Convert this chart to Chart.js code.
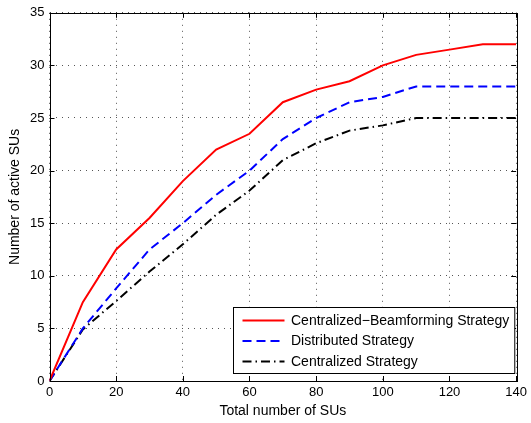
<!DOCTYPE html>
<html>
<head>
<meta charset="utf-8">
<script src="https://cdn.jsdelivr.net/npm/chart.js@4.4.1/dist/chart.umd.min.js"></script>
<style>
  html, body { margin: 0; padding: 0; background: #fff; }
  #wrap { width: 531px; height: 423px; }
</style>
</head>
<body>
<div id="wrap"><canvas id="myChart" width="531" height="423"></canvas></div>
<script>
// x values (total number of SUs)
const totalSUs = [0, 10, 20, 30, 40, 50, 60, 70, 80, 90, 100, 110, 120, 130, 140];

// number of active SUs per strategy
const centralizedBeamforming = [0, 7.5, 12.5, 15.5, 19, 22, 23.5, 26.5, 27.7, 28.5, 30, 31, 31.5, 32, 32];
const distributed = [0, 5, 8.8, 12.5, 15, 17.7, 20, 23, 25, 26.5, 27, 28, 28, 28, 28];
const centralized = [0, 4.9, 7.6, 10.4, 13, 15.8, 18.1, 21, 22.6, 23.8, 24.3, 25, 25, 25, 25];

const seriesNames = ['Centralized\u2212Beamforming Strategy', 'Distributed Strategy', 'Centralized Strategy'];
const xTicks = [0, 20, 40, 60, 80, 100, 120, 140];
const yTicks = [0, 5, 10, 15, 20, 25, 30, 35];

const FONT = '"Liberation Sans", Arial, Helvetica, sans-serif';

function toPoints(ys) {
    return totalSUs.map((x, i) => ({ x: x, y: ys[i] }));
}

// box around the axes, inward ticks on all sides, legend box (MATLAB look)
const matlabFrame = {
    id: 'matlabFrame',
    afterDraw(chart) {
        const ctx = chart.ctx;
        const a = chart.chartArea;
        const xs = chart.scales.x, ys = chart.scales.y;
        const tl = 5;
        ctx.save();
        ctx.strokeStyle = '#000';
        ctx.lineWidth = 1;
        ctx.beginPath();
        xTicks.forEach(v => {
            const px = Math.round(xs.getPixelForValue(v)) + 0.5;
            ctx.moveTo(px, a.bottom); ctx.lineTo(px, a.bottom - tl);
            ctx.moveTo(px, a.top); ctx.lineTo(px, a.top + tl);
        });
        yTicks.forEach(v => {
            const py = Math.round(ys.getPixelForValue(v)) + 0.5;
            ctx.moveTo(a.left, py); ctx.lineTo(a.left + tl, py);
            ctx.moveTo(a.right, py); ctx.lineTo(a.right - tl, py);
        });
        ctx.stroke();
        ctx.strokeRect(Math.round(a.left) + 0.5, Math.round(a.top) + 0.5,
            Math.round(a.right - a.left), Math.round(a.bottom - a.top));

        // legend
        ctx.font = '14px ' + FONT;
        const maxW = Math.max(...seriesNames.map(s => ctx.measureText(s).width));
        const bw = 57 + maxW + 6;
        const bh = 66;
        const bx = Math.round(a.right - 2 - bw) + 0.5;
        const by = Math.round(a.bottom - 8 - bh) + 0.5;
        ctx.fillStyle = '#fff';
        ctx.fillRect(bx, by, bw, bh);
        ctx.strokeRect(bx, by, bw, bh);
        chart.data.datasets.forEach((ds, i) => {
            const ly = by + 13 + i * 20.5;
            ctx.save();
            ctx.strokeStyle = ds.borderColor;
            ctx.lineWidth = ds.borderWidth;
            ctx.setLineDash(ds.borderDash || []);
            ctx.beginPath();
            ctx.moveTo(bx + 9, ly);
            ctx.lineTo(bx + 51, ly);
            ctx.stroke();
            ctx.restore();
            ctx.fillStyle = '#000';
            ctx.textBaseline = 'middle';
            ctx.fillText(ds.label, bx + 57.5, ly + 0.5);
        });
        ctx.restore();
    }
};

const chartConfig = {
    type: 'line',
    data: {
        datasets: [{
            label: seriesNames[0],
            data: toPoints(centralizedBeamforming),
            borderColor: '#ff0000',
            borderWidth: 2,
            borderDash: []
        }, {
            label: seriesNames[1],
            data: toPoints(distributed),
            borderColor: '#0000ff',
            borderWidth: 2,
            borderDash: [9, 5]
        }, {
            label: seriesNames[2],
            data: toPoints(centralized),
            borderColor: '#000000',
            borderWidth: 2,
            borderDash: [9, 4, 1.5, 4]
        }]
    },
    options: {
        responsive: false,
        animation: false,
        layout: { padding: { top: 11.5, right: 13, bottom: 0, left: 0 } },
        elements: {
            point: { radius: 0 },
            line: { tension: 0, fill: false }
        },
        plugins: {
            legend: { display: false },
            tooltip: { enabled: false }
        },
        scales: {
            x: {
                type: 'linear',
                min: 0, max: 140,
                afterFit(scale) { scale.height = 42; },
                afterBuildTicks(scale) { scale.ticks = xTicks.map(v => ({ value: v })); },
                border: { display: false, dash: [1, 5] },
                grid: { color: '#555', drawTicks: false, lineWidth: 1 },
                ticks: { color: '#000', padding: 4, font: { family: FONT, size: 13 } },
                title: { display: true, text: 'Total number of SUs', color: '#000', padding: { top: 0, bottom: 3 }, font: { family: FONT, size: 14 } }
            },
            y: {
                type: 'linear',
                min: 0, max: 35,
                afterFit(scale) { scale.width = 49.5; },
                afterBuildTicks(scale) { scale.ticks = yTicks.map(v => ({ value: v })); },
                border: { display: false, dash: [1, 5] },
                grid: { color: '#555', drawTicks: false, lineWidth: 1 },
                ticks: { color: '#000', padding: 5, font: { family: FONT, size: 13 } },
                title: { display: true, text: 'Number of active SUs', color: '#000', padding: { top: 7, bottom: 0 }, font: { family: FONT, size: 14 } }
            }
        }
    },
    plugins: [matlabFrame]
};

const ctx = document.getElementById('myChart').getContext('2d');
const myChart = new Chart(ctx, chartConfig);
</script>
</body>
</html>
